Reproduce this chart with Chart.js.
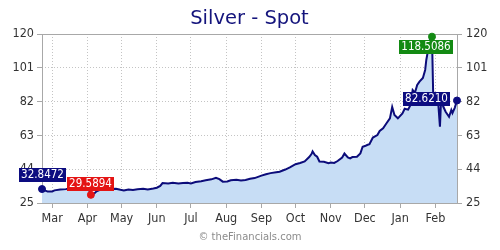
<!DOCTYPE html>
<html>
<head>
<meta charset="utf-8">
<title>Silver - Spot</title>
<script src="https://cdn.jsdelivr.net/npm/chart.js@4.4.1/dist/chart.umd.min.js"></script>
<style>
    html, body { margin: 0; padding: 0; background: #fff; }
    #wrap { width: 500px; height: 250px; }
</style>
</head>
<body>
<div id="wrap"><canvas id="chart" width="500" height="250"></canvas></div>
<script>
// daily closes (sparse where the line is flat)
const dates = [
    '2025-02-20', '2025-02-23', '2025-02-25', '2025-03-01', '2025-03-03', '2025-03-08', '2025-03-13', '2025-03-18',
    '2025-03-24', '2025-03-29', '2025-04-01', '2025-04-02', '2025-04-03', '2025-04-04', '2025-04-07', '2025-04-09',
    '2025-04-12', '2025-04-16', '2025-04-21', '2025-04-26', '2025-04-30', '2025-05-03', '2025-05-07', '2025-05-11',
    '2025-05-15', '2025-05-20', '2025-05-24', '2025-05-29', '2025-06-01', '2025-06-04', '2025-06-06', '2025-06-11',
    '2025-06-15', '2025-06-20', '2025-06-24', '2025-06-28', '2025-07-01', '2025-07-05', '2025-07-10', '2025-07-14',
    '2025-07-19', '2025-07-23', '2025-07-26', '2025-07-29', '2025-08-02', '2025-08-05', '2025-08-10', '2025-08-14',
    '2025-08-18', '2025-08-22', '2025-08-26', '2025-09-01', '2025-09-05', '2025-09-09', '2025-09-14', '2025-09-17',
    '2025-09-22', '2025-09-26', '2025-10-01', '2025-10-05', '2025-10-09', '2025-10-13', '2025-10-15', '2025-10-16',
    '2025-10-18', '2025-10-20', '2025-10-22', '2025-10-26', '2025-10-30', '2025-11-01', '2025-11-04', '2025-11-07',
    '2025-11-11', '2025-11-13', '2025-11-16', '2025-11-18', '2025-11-20', '2025-11-24', '2025-11-27', '2025-11-29',
    '2025-12-01', '2025-12-03', '2025-12-05', '2025-12-08', '2025-12-12', '2025-12-14', '2025-12-17', '2025-12-20',
    '2025-12-23', '2025-12-25', '2025-12-27', '2025-12-30', '2026-01-03', '2026-01-05', '2026-01-08', '2026-01-10',
    '2026-01-12', '2026-01-14', '2026-01-16', '2026-01-18', '2026-01-21', '2026-01-23', '2026-01-24', '2026-01-25',
    '2026-01-27', '2026-01-29', '2026-01-30', '2026-02-01', '2026-02-03', '2026-02-05', '2026-02-06', '2026-02-08',
    '2026-02-10', '2026-02-13', '2026-02-15', '2026-02-16', '2026-02-18', '2026-02-20',
];

const prices = [
    32.8472, 32.0, 31.4, 31.5, 32.1, 32.6, 32.8, 33.6,
    33.5, 34.0, 33.6, 33.2, 31.2, 29.5894, 30.4, 31.6,
    32.4, 32.6, 32.9, 33.0, 32.4, 32.0, 32.6, 32.3,
    32.7, 33.0, 32.6, 33.1, 33.6, 34.6, 36.2, 36.0,
    36.4, 35.9, 36.2, 36.4, 36.0, 36.8, 37.2, 37.8,
    38.3, 39.2, 38.4, 37.0, 37.1, 37.8, 38.0, 37.6,
    37.9, 38.6, 39.0, 40.4, 41.2, 41.8, 42.3, 42.6,
    43.8, 45.0, 46.8, 47.5, 48.4, 50.8, 52.5, 54.0,
    52.0, 51.0, 48.3, 48.2, 47.4, 47.8, 47.5, 48.6,
    50.6, 52.8, 50.6, 50.1, 50.8, 51.0, 52.9, 56.6,
    57.0, 57.6, 58.0, 61.8, 63.2, 65.5, 67.0, 69.8,
    72.6, 79.0, 74.5, 72.6, 75.4, 78.0, 77.5, 80.0,
    88.5, 87.0, 91.3, 93.2, 95.3, 99.8, 105.4, 109.0,
    116.6, 118.5086, 87.6, 84.0, 85.5, 67.9, 82.9, 79.1,
    76.3, 73.5, 77.3, 75.6, 78.5, 82.6210,
];

const monthStarts = ['2025-03-01', '2025-04-01', '2025-05-01', '2025-06-01', '2025-07-01', '2025-08-01',
    '2025-09-01', '2025-10-01', '2025-11-01', '2025-12-01', '2026-01-01', '2026-02-01'];
const monthLabels = ['Mar', 'Apr', 'May', 'Jun', 'Jul', 'Aug', 'Sep', 'Oct', 'Nov', 'Dec', 'Jan', 'Feb'];
const yTicks = [25, 44, 63, 82, 101, 120];

const COLORS = {
    title: '#14147c',
    line: '#0c0c7a',
    fill: '#c7ddf5',
    grid: '#c4c4c4',
    axis: '#a8a8a8',
    text: '#333333',
    navy: '#0c0c80',
    red: '#e41414',
    green: '#138a13',
};

const FONT = "'DejaVu Sans Condensed', 'DejaVu Sans', sans-serif";
const START = Date.parse(dates[0]);
const dayOf = (d) => (Date.parse(d) - START) / 86400000;

const points = dates.map((d, i) => ({ x: dayOf(d), y: prices[i] }));
const monthDays = monthStarts.map(dayOf);

const lastIdx = prices.length - 1;
const minIdx = prices.indexOf(Math.min(...prices));
const maxIdx = prices.indexOf(Math.max(...prices));

// which points get a dot + value tag
const marks = [
    { index: 0, color: COLORS.navy, place: 'above', gap: 7 },
    { index: minIdx, color: COLORS.red, place: 'above', gap: 4 },
    { index: maxIdx, color: COLORS.green, place: 'below', gap: 3 },
    { index: lastIdx, color: COLORS.navy, place: 'left', gap: 7 },
];
const markFor = (i) => marks.find((m) => m.index === i);

const frameAndText = {
    id: 'frameAndText',
    beforeDraw(chart) {
        const { ctx, chartArea } = chart;
        ctx.save();
        ctx.fillStyle = COLORS.title;
        ctx.font = "19.5px 'DejaVu Sans', sans-serif";
        ctx.textAlign = 'center';
        ctx.textBaseline = 'middle';
        ctx.fillText('Silver - Spot', (chartArea.left + chartArea.right) / 2, 19);

        ctx.fillStyle = '#8c8c8c';
        ctx.font = "10px 'DejaVu Sans', sans-serif";
        ctx.fillText('\u00a9 theFinancials.com', 250, 237);
        ctx.restore();
    },
    // solid frame round the plot; the grid itself stays dotted
    beforeDatasetsDraw(chart) {
        const { ctx, chartArea } = chart;
        const l = Math.round(chartArea.left) + 0.5;
        const r = Math.round(chartArea.right) + 0.5;
        const t = Math.round(chartArea.top) + 0.5;
        const b = Math.round(chartArea.bottom) + 0.5;
        ctx.save();
        ctx.setLineDash([]);
        ctx.strokeStyle = COLORS.axis;
        ctx.lineWidth = 1;
        ctx.strokeRect(l, t, r - l, b - t);
        ctx.restore();
    },
};

const valueTags = {
    id: 'valueTags',
    afterDatasetsDraw(chart) {
        const { ctx, chartArea } = chart;
        const meta = chart.getDatasetMeta(0);
        ctx.save();
        ctx.font = '11.5px ' + FONT;
        ctx.textBaseline = 'middle';
        ctx.textAlign = 'center';
        marks.forEach((m) => {
            const pt = meta.data[m.index];
            const text = prices[m.index].toFixed(4);
            const w = Math.ceil(ctx.measureText(text).width) + 4;
            const h = 14;
            let x;
            let y;
            if (m.place === 'above') {
                x = pt.x - w / 2;
                y = pt.y - m.gap - h;
            } else if (m.place === 'below') {
                x = Math.min(pt.x - w / 2, chartArea.right - 4 - w);
                y = pt.y + m.gap;
            } else {
                x = pt.x - m.gap - w;
                y = pt.y - 1 - h / 2;
            }
            ctx.fillStyle = m.color;
            ctx.fillRect(Math.round(x), Math.round(y), w, h);
            ctx.fillStyle = '#ffffff';
            ctx.fillText(text, Math.round(x) + w / 2, Math.round(y) + h / 2 + 0.5);
        });
        ctx.restore();
    },
};

const yAxis = (position, width, onChart) => ({
    type: 'linear',
    position,
    min: 25,
    max: 120,
    afterBuildTicks: (scale) => { scale.ticks = yTicks.map((v) => ({ value: v })); },
    afterFit: (scale) => { scale.width = width; },
    grid: {
        drawOnChartArea: onChart,
        color: COLORS.grid,
        tickColor: COLORS.axis,
        tickLength: 5,
    },
    border: { display: false, dash: [1, 2] },
    ticks: {
        color: COLORS.text,
        padding: position === 'left' ? 3 : 4,
        font: { family: FONT, size: 12.5 },
    },
});

new Chart(document.getElementById('chart'), {
    type: 'line',
    data: {
        datasets: [{
            data: points,
            borderColor: COLORS.line,
            borderWidth: 2,
            backgroundColor: COLORS.fill,
            fill: 'start',
            tension: 0,
            clip: 8,
            pointRadius: (c) => (markFor(c.dataIndex) ? 3.5 : 0),
            pointBackgroundColor: (c) => (markFor(c.dataIndex) || {}).color,
            pointBorderColor: (c) => (markFor(c.dataIndex) || {}).color,
            pointBorderWidth: 1,
            pointHoverRadius: 0,
        }],
    },
    options: {
        responsive: false,
        animation: false,
        layout: { padding: { top: 34, left: 0, right: 0, bottom: 0 } },
        plugins: {
            legend: { display: false },
            tooltip: { enabled: false },
        },
        scales: {
            x: {
                type: 'linear',
                min: 0,
                max: dayOf(dates[lastIdx]),
                afterBuildTicks: (scale) => { scale.ticks = monthDays.map((v) => ({ value: v })); },
                afterFit: (scale) => { scale.height = 47; },
                grid: {
                    color: COLORS.grid,
                    tickColor: COLORS.axis,
                    tickLength: 5,
                },
                border: { display: false, dash: [1, 2] },
                ticks: {
                    color: COLORS.text,
                    padding: 3,
                    autoSkip: false,
                    maxRotation: 0,
                    font: { family: FONT, size: 12.5 },
                    callback: (v) => monthLabels[monthDays.indexOf(v)],
                },
            },
            y: yAxis('left', 42, true),
            y2: yAxis('right', 43, false),
        },
    },
    plugins: [frameAndText, valueTags],
});
</script>
</body>
</html>
